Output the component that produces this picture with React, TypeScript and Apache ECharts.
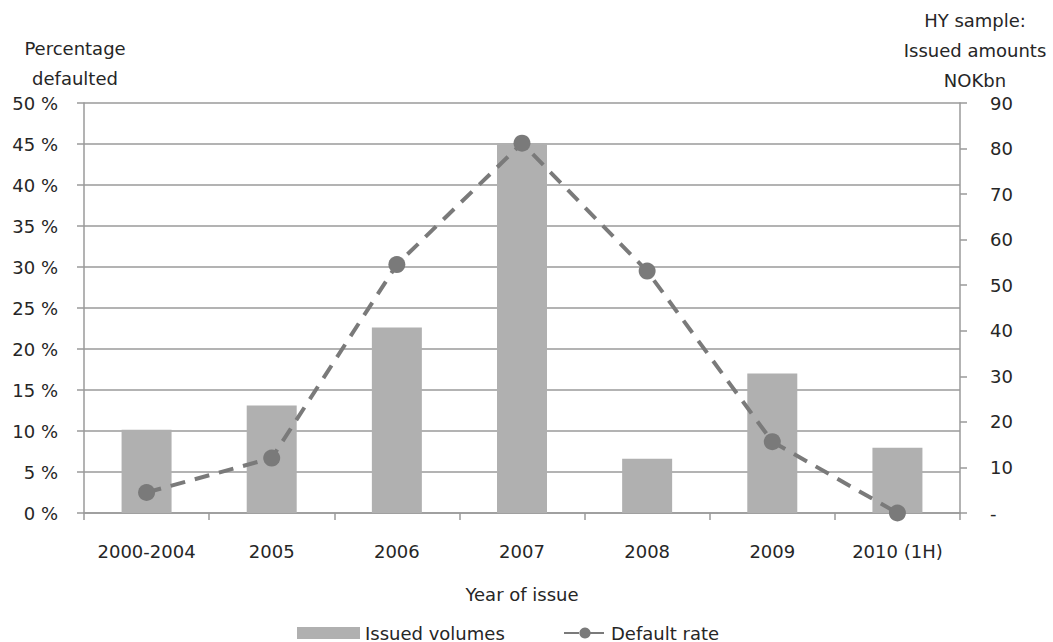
import React, { useEffect, useRef } from "react";
import * as echarts from "echarts";

const categories = ["2000-2004", "2005", "2006", "2007", "2008", "2009", "2010 (1H)"];
const issuedVolumes = [18.3, 23.6, 40.7, 81.2, 11.9, 30.6, 14.3];
const defaultRate = [2.5, 6.7, 30.3, 45.1, 29.5, 8.7, 0];
const leftTicks = { min: 0, max: 50, interval: 5 };
const rightTicks = { min: 0, max: 90, interval: 10 };

const FONT = "DejaVu Sans";
const TXT = "#262626";
const GRID = "#9a9a9a";

export default function App() {
  const ref = useRef<HTMLDivElement>(null);
  useEffect(() => {
    if (!ref.current) return;
    const chart = echarts.init(ref.current, undefined, { renderer: "svg" });
    chart.setOption({
      animation: false,
      backgroundColor: "#ffffff",
      textStyle: { fontFamily: FONT, color: TXT },
      grid: { left: 84, right: 93, top: 103, bottom: 129 },
      legend: [
        {
          data: [{ name: "Issued volumes", icon: "rect" }],
          left: 292,
          top: 619,
          itemWidth: 63,
          itemHeight: 12,
          textStyle: { fontFamily: FONT, fontSize: 18, color: TXT },
        },
        {
          data: [{ name: "Default rate" }],
          left: 558,
          top: 619,
          itemWidth: 42,
          itemHeight: 14,
          textStyle: { fontFamily: FONT, fontSize: 18, color: TXT },
        },
      ],
      xAxis: {
        type: "category",
        data: categories,
        axisLine: { lineStyle: { color: GRID, width: 1.5 } },
        axisTick: { show: true, length: 7, lineStyle: { color: GRID, width: 1.5 } },
        axisLabel: { fontFamily: FONT, fontSize: 18, color: TXT, margin: 29, interval: 0 },
      },
      yAxis: [
        {
          type: "value",
          min: leftTicks.min,
          max: leftTicks.max,
          interval: leftTicks.interval,
          axisLine: { show: true, lineStyle: { color: GRID, width: 1.5 } },
          axisTick: { show: true, length: 7, lineStyle: { color: GRID, width: 1.5 } },
          splitLine: { lineStyle: { color: GRID, width: 1.5 } },
          axisLabel: {
            fontFamily: FONT,
            fontSize: 18,
            color: TXT,
            margin: 26,
            formatter: (v: number) => v + " %",
          },
        },
        {
          type: "value",
          position: "right",
          min: rightTicks.min,
          max: rightTicks.max,
          interval: rightTicks.interval,
          axisLine: { show: true, lineStyle: { color: GRID, width: 1.5 } },
          axisTick: { show: true, length: 7, lineStyle: { color: GRID, width: 1.5 } },
          splitLine: { show: false },
          axisLabel: {
            fontFamily: FONT,
            fontSize: 18,
            color: TXT,
            margin: 30,
            formatter: (v: number) => (v === 0 ? "-" : String(v)),
          },
        },
      ],
      series: [
        {
          name: "Issued volumes",
          type: "bar",
          yAxisIndex: 1,
          data: issuedVolumes,
          barWidth: 50,
          itemStyle: { color: "#b0b0b0" },
        },
        {
          name: "Default rate",
          type: "line",
          yAxisIndex: 0,
          data: defaultRate,
          symbol: "circle",
          symbolSize: 17,
          itemStyle: { color: "#7a7a7a" },
          lineStyle: { color: "#7a7a7a", width: 4, type: [15, 10] },
          z: 5,
        },
      ],
      graphic: [
        {
          type: "text",
          x: 75,
          y: 33,
          style: {
            text: "Percentage\ndefaulted",
            fontFamily: FONT,
            fontSize: 18,
            fill: TXT,
            align: "center",
            lineHeight: 30,
          },
        },
        {
          type: "text",
          x: 975,
          y: 5,
          style: {
            text: "HY sample:\nIssued amounts\nNOKbn",
            fontFamily: FONT,
            fontSize: 18,
            fill: TXT,
            align: "center",
            lineHeight: 30,
          },
        },
        {
          type: "text",
          x: 522,
          y: 585,
          style: {
            text: "Year of issue",
            fontFamily: FONT,
            fontSize: 18,
            fill: TXT,
            align: "center",
          },
        },
      ],
    });
    return () => chart.dispose();
  }, []);
  return <div ref={ref} style={{ width: 1053, height: 642, position: "absolute", left: 0, top: 0 }} />;
}
